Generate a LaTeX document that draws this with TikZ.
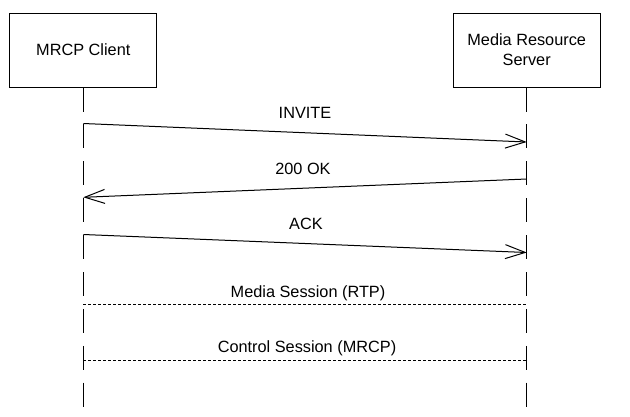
\documentclass[tikz,border=0pt]{standalone}
\usepackage{fontspec}
\setmainfont{Liberation Sans}
\usetikzlibrary{arrows.meta}
\begin{document}
\begin{tikzpicture}[x=1pt,y=-1pt,
  every node/.style={font=\fontsize{16.3}{20}\selectfont},
  actor/.style={draw, line width=1pt, minimum width=147pt, minimum height=74pt, inner sep=0pt, align=center},
  lifeline/.style={line width=1pt, dash pattern=on 24pt off 12.9pt},
  msg/.style={line width=1pt, -{Straight Barb[length=20pt,width=14pt,line width=1pt]}},
  session/.style={line width=0.9pt, dash pattern=on 3pt off 2pt},
  lbl/.style={inner sep=0pt}]
\useasboundingbox (0,0) rectangle (630,416);
\node[actor] (client) at (83.3,50) {MRCP Client};
\node[actor] (server) at (526.7,50) {Media Resource\\Server};
\coordinate (cend) at (83.3,407);
\coordinate (send) at (526.7,407);
\draw[lifeline] (client.south) -- (cend);
\draw[lifeline] (server.south) -- (send);
% INVITE
\coordinate (a1) at (83.3,123.5);
\coordinate (a2) at (526.7,142);
\draw[msg] (a1) -- (a2);
\node[lbl] (linvite) at (305,113) {INVITE};
% 200 OK
\coordinate (b1) at (526.7,179);
\coordinate (b2) at (83.3,197.3);
\draw[msg] (b1) -- (b2);
\node[lbl] (lok) at (303,169) {200 OK};
% ACK
\coordinate (c1) at (83.3,234.5);
\coordinate (c2) at (526.7,252.5);
\draw[msg] (c1) -- (c2);
\node[lbl] (lack) at (306,224) {ACK};
% Media session
\coordinate (d1) at (83.3,304.3);
\coordinate (d2) at (526.7,304.3);
\draw[session] (d1) -- (d2);
\node[lbl] (lmedia) at (308,293) {Media Session (RTP)};
% Control session
\coordinate (e1) at (83.3,360);
\coordinate (e2) at (526.7,360);
\draw[session] (e1) -- (e2);
\node[lbl] (lctrl) at (307,348) {Control Session (MRCP)};
\end{tikzpicture}
\end{document}
